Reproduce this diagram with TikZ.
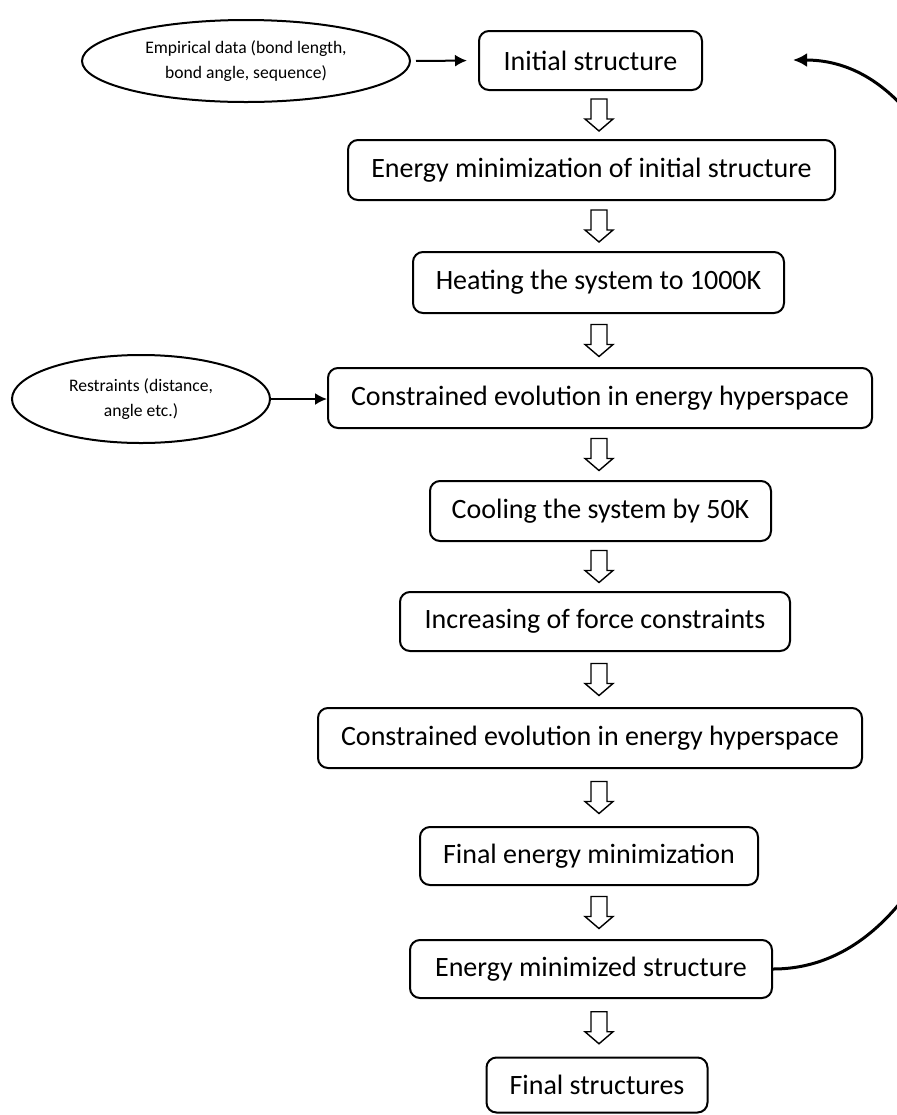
\documentclass[tikz,border=0pt]{standalone}
\usepackage{fontspec}
\setmainfont{Carlito}
\usetikzlibrary{shapes.geometric,arrows.meta,calc}

\tikzset{
  stepbox/.style={draw, line width=1pt, rounded corners=5pt, inner sep=0pt,
    font=\fontsize{14}{17}\selectfont},
  inputoval/.style={draw, ellipse, line width=1pt, inner sep=0pt, align=center,
    font=\fontsize{8.8}{12.5}\selectfont},
  feed/.style={line width=1pt, -{Latex[length=6pt,width=6pt]}},
  loopback/.style={line width=1.5pt, -{Latex[length=7pt,width=7pt]}},
  downarrow/.pic={
    \draw[line width=0.7pt, fill=white]
      (-8,-16) -- (-8,4) -- (-14,4) -- (0,16) -- (14,4) -- (8,4) -- (8,-16) -- cycle;
  }
}

\begin{document}
\begin{tikzpicture}[x=0.5pt, y=-0.5pt]
  \useasboundingbox (0,0) rectangle (897,1115);

  % main sequence of steps
  \node[stepbox, minimum width=111.5pt, minimum height=29.5pt] (b1) at (590.5,60.5) {Initial structure};
  \node[stepbox, minimum width=243.5pt, minimum height=30pt] (b2) at (591.5,170) {Energy minimization of initial structure};
  \node[stepbox, minimum width=185.5pt, minimum height=30.5pt] (b3) at (598.5,282.5) {Heating the system to 1000K};
  \node[stepbox, minimum width=272pt, minimum height=30pt] (b4) at (600,398) {Constrained evolution in energy hyperspace};
  \node[stepbox, minimum width=170.5pt, minimum height=30pt] (b5) at (600.5,511) {Cooling the system by 50K};
  \node[stepbox, minimum width=195pt, minimum height=29.5pt] (b6) at (595,621.5) {Increasing of force constraints};
  \node[stepbox, minimum width=272pt, minimum height=30pt] (b7) at (590,738) {Constrained evolution in energy hyperspace};
  \node[stepbox, minimum width=169pt, minimum height=29pt] (b8) at (589,856) {Final energy minimization};
  \node[stepbox, minimum width=181pt, minimum height=29pt] (b9) at (591,969) {Energy minimized structure};
  \node[stepbox, minimum width=110.5pt, minimum height=27.5pt] (b10) at (597,1085) {Final structures};

  % inputs
  \node[inputoval, minimum width=164pt, minimum height=41pt] (e1) at (246,61)
    {Empirical data (bond length,\\ bond angle, sequence)};
  \node[inputoval, minimum width=129pt, minimum height=44pt] (e2) at (141,399)
    {Restraints (distance,\\ angle etc.)};

  \draw[feed, shorten <=2.5pt, shorten >=5.5pt] (e1.east) -- (b1.west);
  \draw[feed] (e2.east) -- (b4.west |- e2.east);

  % hollow arrows between consecutive steps
  \coordinate (ax) at (599,0);
  \foreach \a/\b in {b1/b2, b2/b3, b3/b4, b4/b5, b5/b6, b6/b7, b7/b8, b8/b9, b9/b10} {
    \path ($(\a.south)!0.5!(\b.north)$) coordinate (m);
    \pic at (ax |- m) {downarrow};
  }

  % loop back from the minimized structure to the start
  \coordinate (loopend) at (793,60);
  \begin{scope}
    \clip (0,0) rectangle (897,1115);
    \draw[loopback] (b9.east) .. controls (1080,969) and (1080,60) .. (loopend);
  \end{scope}
\end{tikzpicture}
\end{document}
